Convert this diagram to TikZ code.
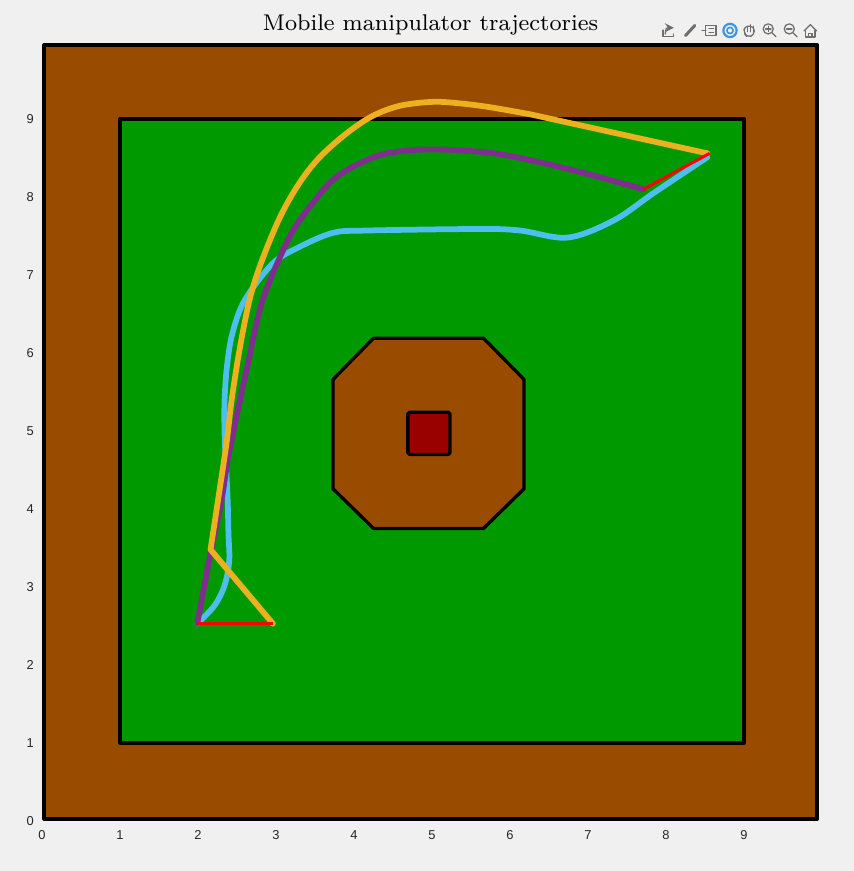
\documentclass[tikz,border=0pt]{standalone}
\usepackage{fontspec}
\newfontfamily\tickfont{Liberation Sans}
\definecolor{figbg}{RGB}{240,240,240}
\definecolor{wall}{RGB}{153,76,0}
\definecolor{floor}{RGB}{0,153,0}
\definecolor{target}{RGB}{153,0,0}
\definecolor{trajyellow}{RGB}{237,177,32}
\definecolor{trajpurple}{RGB}{126,47,142}
\definecolor{trajblue}{RGB}{77,190,238}
\definecolor{icongray}{RGB}{110,110,110}
\definecolor{iconblue}{RGB}{60,150,225}

\begin{document}
\begin{tikzpicture}[x=1cm, y=1cm,
  border/.style={draw=black, line width=1.2pt, line join=round},
  traj/.style={line width=2.1pt, line join=round, line cap=round},
  link/.style={draw=red, line width=1.1pt},
  tick/.style={font=\tickfont\fontsize{4.7}{5}\selectfont, text=black!85, inner sep=0pt},
  icon/.style={draw=icongray, line width=0.45pt, line cap=round, line join=round}]
  \fill[figbg] (-0.539,-0.641) rectangle (10.405,10.526);
  \useasboundingbox (-0.539,-0.641) rectangle (10.405,10.526);

  \node[font=\fontsize{8.3}{10}\selectfont] (title) at (4.98,10.20) {Mobile manipulator trajectories};

  \draw[border, fill=wall, line width=1.45pt] (0.03,0.03) rectangle (9.94,9.95);
  \draw[border, fill=floor] (1,1) rectangle (9,9);
  \draw[border, fill=wall]
    (4.25,6.19) -- (5.66,6.19) -- (6.18,5.66) -- (6.18,4.26)
    -- (5.66,3.75) -- (4.25,3.75) -- (3.73,4.26) -- (3.73,5.66) -- cycle;
  \draw[border, fill=target, rounded corners=0.6pt] (4.69,4.70) rectangle (5.23,5.24);

  \foreach \i in {0,...,9} {
    \node[tick] (xt\i) at (\i,-0.18) {\i};
    \node[tick, anchor=east] (yt\i) at (-0.10,\i) {\i};
  }

  \coordinate (start) at (1.99,2.53);
  \coordinate (startb) at (2.96,2.53);
  \coordinate (goal) at (7.71,8.10);
  \coordinate (goalb) at (8.56,8.56);

  \draw[traj, trajblue] plot[smooth, tension=0.55] coordinates {
    (start) (2.21,2.76) (2.34,3.02) (2.40,3.34) (2.39,3.68) (2.38,4.11)
    (2.36,4.53) (2.34,4.97) (2.34,5.39) (2.37,5.82) (2.44,6.25) (2.60,6.68)
    (2.96,7.15) (3.30,7.36) (3.73,7.54) (4.16,7.57) (5.62,7.59) (6.13,7.57)
    (6.74,7.48) (7.33,7.70) (7.84,8.05) (8.53,8.51)};
  \draw[traj, trajpurple] plot[smooth, tension=0.55] coordinates {
    (start) (2.15,3.38) (2.30,4.11) (2.38,4.62) (2.49,5.17) (2.63,5.82)
    (2.83,6.68) (3.17,7.48) (3.43,7.87) (3.73,8.22) (4.07,8.43) (4.42,8.56)
    (4.94,8.61) (5.62,8.58) (6.13,8.50) (6.90,8.32) (goal)};
  \draw[traj, trajyellow] (startb) -- (2.16,3.48) -- plot[smooth, tension=0.55] coordinates {
    (2.16,3.48) (2.28,4.27) (2.37,4.88) (2.43,5.39) (2.53,6.03) (2.66,6.68)
    (2.81,7.16) (3.05,7.74) (3.30,8.18) (3.56,8.51) (3.91,8.82) (4.24,9.04)
    (4.59,9.17) (5.01,9.22) (5.36,9.20) (5.75,9.15) (6.26,9.06)}
    -- (8.53,8.56);

  \draw[link] (start) -- (startb);
  \draw[link] (goal) -- (goalb);

  % axes toolbar
  \draw[icon] (7.96,10.14) -- (7.96,10.06) -- (8.10,10.06) -- (8.10,10.09);
  \draw[icon, -stealth] (7.99,10.09) .. controls (8.00,10.17) .. (8.10,10.17);
  \draw[draw=icongray, line width=1.1pt, line cap=round] (8.25,10.07) -- (8.37,10.20);
  \draw[icon] (8.51,10.07) rectangle (8.64,10.20);
  \draw[icon] (8.51,10.13) -- (8.46,10.13);
  \draw[icon] (8.55,10.16) -- (8.61,10.16) (8.55,10.11) -- (8.61,10.11);
  \draw[draw=iconblue, line width=0.8pt] (8.82,10.135) circle (0.085);
  \draw[draw=iconblue, line width=0.6pt] (8.82,10.135) circle (0.04);
  \draw[icon, rounded corners=1.5pt] (9.00,10.10) -- (9.00,10.19) -- (9.13,10.19) -- (9.13,10.07) -- (9.04,10.05) -- cycle;
  \draw[icon] (9.04,10.12) -- (9.04,10.19) (9.08,10.12) -- (9.08,10.21) (9.12,10.12) -- (9.12,10.19);
  \draw[icon] (9.31,10.155) circle (0.065);
  \draw[icon] (9.36,10.105) -- (9.41,10.055);
  \draw[icon] (9.275,10.155) -- (9.345,10.155) (9.31,10.12) -- (9.31,10.19);
  \draw[icon] (9.58,10.155) circle (0.065);
  \draw[icon] (9.63,10.105) -- (9.68,10.055);
  \draw[icon] (9.545,10.155) -- (9.615,10.155);
  \draw[icon] (9.77,10.13) -- (9.85,10.21) -- (9.93,10.13);
  \draw[icon] (9.79,10.14) -- (9.79,10.05) -- (9.91,10.05) -- (9.91,10.14);
  \draw[icon] (9.83,10.05) -- (9.83,10.10) -- (9.87,10.10) -- (9.87,10.05);
\end{tikzpicture}
\end{document}
